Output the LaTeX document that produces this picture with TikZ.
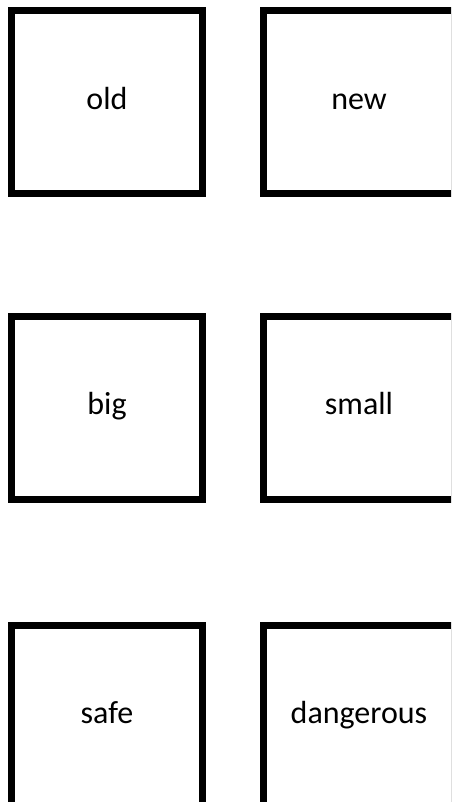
\documentclass[tikz,border=0pt]{standalone}
\usepackage{fontspec}
\setmainfont{Carlito}
\begin{document}
\begin{tikzpicture}[x=1pt,y=1pt,
  card/.style={draw=black, line width=7pt, minimum width=191pt, minimum height=183pt, inner sep=0pt, text height=21pt, text depth=7pt, font=\fontsize{32}{38}\selectfont}]
\useasboundingbox (0,0) rectangle (451,802);
\clip (0,0) rectangle (451,802);
\node[card] (old) at (107,699.5) {old};
\node[card] (new) at (359,699.5) {new};
\node[card] (big) at (107,394) {big};
\node[card] (small) at (359,394) {small};
\node[card] (safe) at (107,85) {safe};
\node[card] (dangerous) at (359,85) {dangerous};
\end{tikzpicture}
\end{document}
